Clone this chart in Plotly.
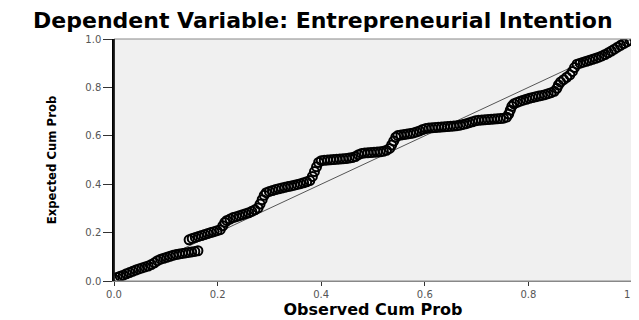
import plotly.graph_objects as go

# Observed vs expected cumulative probabilities
observed = [
    0.000, 0.006, 0.012, 0.018, 0.024, 0.030, 0.036, 0.042, 0.048, 0.054, 0.060, 0.066, 0.072, 0.078,
    0.084, 0.090, 0.096, 0.102, 0.108, 0.114, 0.120, 0.126, 0.132, 0.138, 0.144, 0.150, 0.156, 0.162,
    0.145, 0.151, 0.157, 0.163, 0.169, 0.175, 0.181, 0.187, 0.193, 0.199, 0.205,
    0.210, 0.214,
    0.218, 0.224, 0.230, 0.236, 0.242, 0.248, 0.254, 0.260, 0.266, 0.272, 0.278,
    0.282, 0.286, 0.290,
    0.294, 0.300, 0.306, 0.312, 0.318, 0.324, 0.330, 0.336, 0.342, 0.348, 0.354, 0.360, 0.366, 0.372, 0.378,
    0.383, 0.387, 0.391, 0.395,
    0.400, 0.406, 0.412, 0.418, 0.424, 0.430, 0.436, 0.442, 0.448, 0.454, 0.460, 0.466,
    0.472, 0.478,
    0.484, 0.490, 0.496, 0.502, 0.508, 0.514, 0.520, 0.526, 0.532,
    0.536, 0.540, 0.544,
    0.548, 0.554, 0.560, 0.566, 0.572, 0.578, 0.584, 0.590, 0.596,
    0.602, 0.608, 0.614, 0.620, 0.626, 0.632, 0.638, 0.644, 0.650, 0.656, 0.662, 0.668, 0.674, 0.680, 0.686, 0.692,
    0.698, 0.704, 0.710, 0.716, 0.722, 0.728, 0.734, 0.740, 0.746, 0.752, 0.758,
    0.762, 0.765, 0.768,
    0.772, 0.778, 0.784, 0.790, 0.796, 0.802, 0.808, 0.814, 0.820, 0.826, 0.832, 0.838, 0.844, 0.850,
    0.855, 0.858,
    0.862, 0.868, 0.874, 0.880, 0.885, 0.889,
    0.894, 0.900, 0.906, 0.912, 0.918, 0.924, 0.930, 0.936, 0.942, 0.948, 0.954, 0.960, 0.966, 0.972,
    0.978, 0.984, 0.990, 0.996,
]
expected = [
    0.008, 0.014, 0.020, 0.024, 0.030, 0.035, 0.040, 0.045, 0.050, 0.054, 0.058, 0.062, 0.068, 0.075,
    0.084, 0.090, 0.094, 0.098, 0.102, 0.106, 0.109, 0.112, 0.114, 0.116, 0.118, 0.120, 0.122, 0.125,
    0.170, 0.176, 0.180, 0.184, 0.188, 0.192, 0.196, 0.200, 0.204, 0.208, 0.212,
    0.228, 0.242,
    0.250, 0.256, 0.262, 0.266, 0.270, 0.274, 0.278, 0.282, 0.288, 0.294, 0.302,
    0.318, 0.336, 0.354,
    0.365, 0.370, 0.374, 0.378, 0.381, 0.384, 0.387, 0.390, 0.393, 0.396, 0.399, 0.402, 0.406, 0.410, 0.415,
    0.432, 0.452, 0.472, 0.490,
    0.497, 0.499, 0.500, 0.501, 0.502, 0.503, 0.504, 0.505, 0.506, 0.508, 0.510, 0.514,
    0.522, 0.527,
    0.529, 0.530, 0.531, 0.532, 0.533, 0.534, 0.536, 0.540, 0.548,
    0.562, 0.578, 0.594,
    0.601, 0.603, 0.605, 0.607, 0.609, 0.612, 0.616, 0.620, 0.626,
    0.630, 0.632, 0.633, 0.634, 0.635, 0.636, 0.637, 0.638, 0.639, 0.640, 0.642, 0.644, 0.647, 0.650, 0.654, 0.658,
    0.662, 0.664, 0.665, 0.666, 0.667, 0.668, 0.669, 0.670, 0.671, 0.673, 0.677,
    0.690, 0.706, 0.722,
    0.732, 0.738, 0.743, 0.747, 0.751, 0.755, 0.758, 0.761, 0.764, 0.767, 0.770, 0.774, 0.778, 0.784,
    0.796, 0.810,
    0.822, 0.832, 0.842, 0.852, 0.866, 0.882,
    0.896, 0.900, 0.904, 0.908, 0.912, 0.916, 0.920, 0.925, 0.930, 0.936, 0.943, 0.950, 0.958, 0.966,
    0.974, 0.981, 0.988, 0.995,
]
assert len(observed) == len(expected)

ref_line = [0.0, 1.0]
tick_vals = [0.0, 0.2, 0.4, 0.6, 0.8, 1.0]
tick_text = ["0.0", "0.2", "0.4", "0.6", "0.8", "1.0"]

fig = go.Figure()
fig.add_trace(go.Scatter(x=ref_line, y=ref_line, mode="lines",
                         line=dict(color="#555555", width=1), hoverinfo="skip"))
fig.add_trace(go.Scatter(x=observed, y=expected, mode="markers",
                         marker=dict(symbol="circle-open", size=9, color="black",
                                     line=dict(width=2, color="black"))))

axis_common = dict(range=[0, 1], tickvals=tick_vals, ticktext=tick_text,
                   ticks="outside", tickcolor="#333333", showgrid=False,
                   zeroline=False, ticklabeloverflow="allow", automargin=False,
                   tickfont=dict(family="DejaVu Sans", size=10, color="#555555"))

# The page body has an 8px default margin, so the figure is sized to fit the window.
fig.update_layout(
    width=631, height=312,
    margin=dict(l=106, r=7, t=31, b=39),
    paper_bgcolor="white", plot_bgcolor="#f0f0f0",
    showlegend=False,
    title=dict(text="<b>Dependent Variable: Entrepreneurial Intention</b>",
               font=dict(family="DejaVu Sans", size=22, color="black"),
               x=0.499, xanchor="center", xref="container",
               y=0.962, yanchor="middle", yref="container"),
    xaxis=dict(**axis_common, ticklen=4, showline=True, linecolor="#888888", linewidth=1,
               mirror=False,
               title=dict(text="<b>Observed Cum Prob</b>", standoff=2,
                          font=dict(family="DejaVu Sans", size=16, color="black"))),
    yaxis=dict(**axis_common, ticklen=9, showline=True, linecolor="black", linewidth=1.5,
               mirror=False,
               title=dict(text="<b>Expected Cum Prob</b>", standoff=26,
                          font=dict(family="DejaVu Sans Condensed, Liberation Sans, sans-serif",
                                    size=13, color="black"))),
)
fig.add_shape(type="rect", xref="paper", yref="paper", x0=0, y0=0, x1=1, y1=1,
              line=dict(color="#888888", width=1), layer="above")
fig.add_shape(type="line", xref="paper", yref="paper", x0=0, y0=0, x1=0, y1=1,
              line=dict(color="black", width=1.5), layer="above")

fig.write_html("out.html")
